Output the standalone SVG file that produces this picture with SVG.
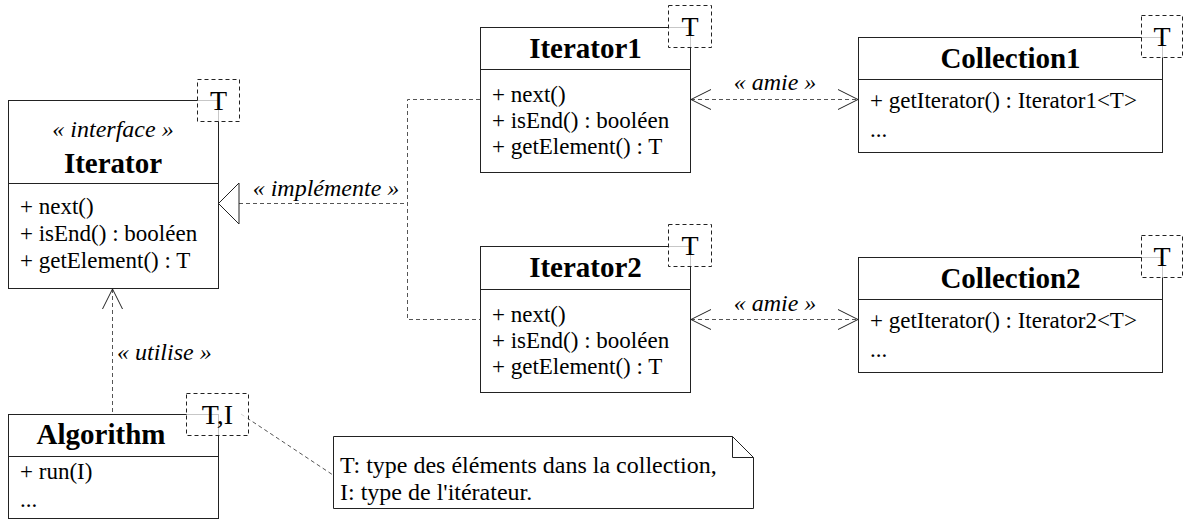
<svg xmlns="http://www.w3.org/2000/svg" width="1184" height="532" viewBox="0 0 1184 532">
<style>
  .box { fill: #fff; stroke: #222; stroke-width: 1; }
  .div { stroke: #222; stroke-width: 1; }
  .tbox { fill: #fff; fill-opacity: 0.75; stroke: #222; stroke-width: 1; stroke-dasharray: 4 3; }
  text { font-family: 'Liberation Serif', 'DejaVu Serif', serif; fill: #000; }
  .title { font-weight: bold; font-size: 29px; text-anchor: middle; }
  .meth { font-size: 23px; }
  .note { font-size: 24px; }
  .tpl { font-size: 28px; text-anchor: middle; }
  .ster { font-style: italic; font-size: 24px; }
  .dash { fill: none; stroke: #555; stroke-width: 1; stroke-dasharray: 4 3; }
  .head { fill: none; stroke: #222; stroke-width: 1; }
  .tri { fill: #fff; stroke: #222; stroke-width: 1; }
</style>

<g id="connectors">
  <polyline class="dash" points="480,99.5 407.5,99.5 407.5,319.5 480,319.5"/>
  <line class="dash" x1="239" y1="203.5" x2="407.5" y2="203.5"/>
  <polygon class="tri" points="218.5,203.5 239,183 239,224"/>
  <text class="ster" x="326" y="196" text-anchor="middle">« implémente »</text>
  <line class="dash" x1="112.5" y1="289" x2="112.5" y2="414"/>
  <polyline class="head" points="102.5,309 112.5,289 122.5,309"/>
  <text class="ster" x="117" y="360">« utilise »</text>
  <line class="dash" x1="691" y1="99.5" x2="858" y2="99.5"/>
  <polyline class="head" points="711,89.5 691,99.5 711,109.5"/>
  <polyline class="head" points="838,89.5 858,99.5 838,109.5"/>
  <text class="ster" x="775" y="90" text-anchor="middle">« amie »</text>
  <line class="dash" x1="691" y1="319.5" x2="858" y2="319.5"/>
  <polyline class="head" points="711,309.5 691,319.5 711,329.5"/>
  <polyline class="head" points="838,309.5 858,319.5 838,329.5"/>
  <text class="ster" x="775" y="311" text-anchor="middle">« amie »</text>
  <line class="dash" x1="241" y1="414" x2="333" y2="475"/>
</g>

<g id="iterator">
  <rect class="box" x="8.5" y="100.5" width="210" height="188"/>
  <line class="div" x1="8.5" y1="183.5" x2="218.5" y2="183.5"/>
  <text class="ster" x="113" y="137" text-anchor="middle">« interface »</text>
  <text class="title" x="113" y="173">Iterator</text>
  <text class="meth" x="20" y="214">+ next()</text>
  <text class="meth" x="20" y="241">+ isEnd() : booléen</text>
  <text class="meth" x="20" y="268">+ getElement() : T</text>
  <rect class="tbox" x="197.5" y="79.5" width="42" height="42"/>
  <text class="tpl" x="218.5" y="110">T</text>
</g>

<g id="iterator1">
  <rect class="box" x="480.5" y="27.5" width="210" height="145"/>
  <line class="div" x1="480.5" y1="69.5" x2="690.5" y2="69.5"/>
  <text class="title" x="585.5" y="58">Iterator1</text>
  <text class="meth" x="492" y="102">+ next()</text>
  <text class="meth" x="492" y="128">+ isEnd() : booléen</text>
  <text class="meth" x="492" y="154">+ getElement() : T</text>
  <rect class="tbox" x="668.5" y="5.5" width="43" height="42"/>
  <text class="tpl" x="690" y="36">T</text>
</g>

<g id="iterator2">
  <rect class="box" x="480.5" y="246.5" width="210" height="146"/>
  <line class="div" x1="480.5" y1="289.5" x2="690.5" y2="289.5"/>
  <text class="title" x="585.5" y="277">Iterator2</text>
  <text class="meth" x="492" y="322">+ next()</text>
  <text class="meth" x="492" y="348">+ isEnd() : booléen</text>
  <text class="meth" x="492" y="374">+ getElement() : T</text>
  <rect class="tbox" x="668.5" y="224.5" width="43" height="42"/>
  <text class="tpl" x="690" y="255">T</text>
</g>

<g id="collection1">
  <rect class="box" x="858.5" y="37.5" width="304" height="115"/>
  <line class="div" x1="858.5" y1="79.5" x2="1162.5" y2="79.5"/>
  <text class="title" x="1010.5" y="68">Collection1</text>
  <text class="meth" x="870" y="108">+ getIterator() : Iterator1&lt;T&gt;</text>
  <text class="meth" x="870" y="137">...</text>
  <rect class="tbox" x="1141.5" y="15.5" width="41" height="42"/>
  <text class="tpl" x="1162" y="46">T</text>
</g>

<g id="collection2">
  <rect class="box" x="858.5" y="257.5" width="304" height="115"/>
  <line class="div" x1="858.5" y1="299.5" x2="1162.5" y2="299.5"/>
  <text class="title" x="1010.5" y="288">Collection2</text>
  <text class="meth" x="870" y="328">+ getIterator() : Iterator2&lt;T&gt;</text>
  <text class="meth" x="870" y="357">...</text>
  <rect class="tbox" x="1141.5" y="235.5" width="41" height="42"/>
  <text class="tpl" x="1162" y="266">T</text>
</g>

<g id="algorithm">
  <rect class="box" x="8.5" y="414.5" width="210" height="104"/>
  <line class="div" x1="8.5" y1="456.5" x2="218.5" y2="456.5"/>
  <text class="title" x="101" y="444">Algorithm</text>
  <text class="meth" x="20" y="479">+ run(I)</text>
  <text class="meth" x="20" y="507">...</text>
  <rect class="tbox" x="186.5" y="393.5" width="62" height="42"/>
  <text class="tpl" x="217.5" y="424">T,I</text>
</g>

<g id="note">
  <path class="box" d="M333.5,436.5 H732.5 L753.5,457.5 V508.5 H333.5 Z"/>
  <path class="head" d="M732.5,436.5 V457.5 H753.5"/>
  <text class="note" x="340" y="473">T: type des éléments dans la collection,</text>
  <text class="note" x="340" y="500">I: type de l'itérateur.</text>
</g>
</svg>
